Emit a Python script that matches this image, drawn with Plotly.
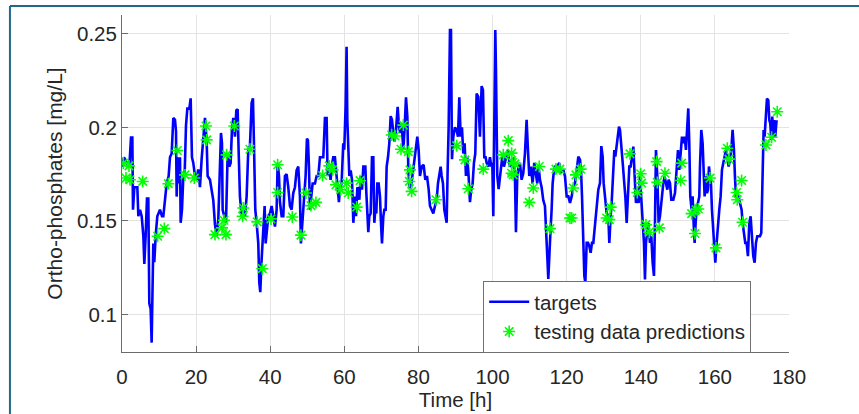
import plotly.graph_objects as go

# ---- targets (blue line) ----
target_time = [
    0, 0.54, 1.26, 1.98, 2.43, 2.79, 2.97, 3.33, 4.14, 4.41, 4.86, 5.31, 5.76, 6.03, 6.38, 6.74, 7.10, 7.37, 7.73, 8.00,
    8.45, 8.72, 9.08, 9.53, 10.25, 10.79, 11.15, 11.60, 12.05, 12.59, 12.95, 13.40, 13.85, 14.30, 14.57, 14.75, 15.02,
    15.29, 15.65, 15.83, 16.19, 16.55, 16.91, 17.27, 17.63, 18.17, 18.53, 18.88, 19.24, 19.69, 20.14, 20.59, 21.04,
    21.49, 21.94, 22.39, 22.84, 23.11, 23.74, 24.64, 25.09, 25.54, 25.99, 26.44, 26.71, 26.98, 27.16, 27.61, 28.06,
    28.51, 28.96, 29.32, 29.68, 30.04, 30.49, 30.85, 31.21, 31.47, 31.83, 32.28, 32.73, 33.18, 33.63, 34.08, 34.53,
    34.98, 35.34, 35.61, 35.97, 36.33, 36.78, 37.05, 37.32, 37.68, 38.13, 38.49, 38.76, 39.03, 39.48, 39.93, 40.38,
    40.83, 41.28, 41.73, 42.00, 42.36, 42.63, 43.08, 43.53, 43.97, 44.42, 44.87, 45.32, 45.77, 46.22, 46.67, 47.12,
    47.57, 47.84, 48.02, 48.29, 48.65, 48.92, 49.28, 49.55, 49.91, 50.18, 50.45, 50.72, 51.08, 51.44, 52.07, 52.52,
    52.97, 53.42, 54.32, 54.77, 55.22, 55.49, 55.94, 56.29, 56.74, 57.01, 57.46, 57.91, 58.27, 58.54, 58.81, 59.26,
    59.71, 59.98, 60.34, 60.61,
    60.81, 61.08, 61.35, 61.71, 62.07, 62.43, 62.88, 63.15, 63.51, 63.78, 64.05, 64.41, 64.77, 65.13, 65.67, 65.94,
    66.21, 66.47, 66.74, 67.10, 67.46, 67.82, 68.09, 68.36, 68.63, 68.90, 69.26, 69.62, 69.89, 70.16, 70.52, 70.79,
    71.15, 71.42, 71.78, 72.14, 72.50, 72.86, 73.22, 73.58, 73.94, 74.39, 74.75, 75.11, 75.47, 75.92, 76.28, 76.64,
    77.00, 77.27, 77.63, 77.99, 78.44, 78.80, 79.24, 79.69, 80.05, 80.41, 80.86, 81.40, 81.85, 82.30, 82.75, 83.11,
    83.56, 84.01, 84.46, 84.91, 85.27, 85.63, 85.99, 86.26, 86.62, 86.98, 87.34, 87.61, 87.88, 88.15, 88.51, 88.78,
    89.05, 89.41, 89.86, 90.31, 90.67, 91.03, 91.39, 91.74, 92.10, 92.46, 92.82, 93.18, 93.54, 93.90, 94.26, 94.62,
    94.98, 95.34, 95.70, 96.15, 96.60, 97.05, 97.41, 97.77, 98.13, 98.40, 98.85, 99.30, 99.66, 99.93, 100.20, 100.47,
    100.74, 100.92, 101.28, 101.64, 102.00, 102.36, 102.72, 103.08, 103.62, 104.15, 104.69, 105.14, 105.59, 106.04,
    106.31, 106.67, 107.03, 107.39, 107.84, 108.29, 108.74, 109.19, 109.55, 109.91, 110.36, 110.81, 111.26, 111.71,
    112.07, 112.43, 112.79, 113.24, 113.69, 114.14, 114.41, 114.77, 115.04, 115.31, 115.67, 115.94, 116.21, 116.57,
    116.92, 117.46, 118.00,
    118.20, 119.10, 119.55, 120.00, 120.45, 120.90, 121.35, 121.80, 122.25, 122.70, 123.15, 123.60, 123.87, 124.14,
    124.50, 124.77, 125.04, 125.40, 125.76, 126.12, 126.47, 126.83, 127.19, 127.64, 128.09, 128.54, 128.99, 129.35,
    129.71, 129.98, 130.34, 130.79, 131.24, 131.51, 131.87, 132.14, 132.59, 132.86, 133.13, 133.49, 133.85, 134.12,
    134.39, 134.66, 134.93, 135.20, 135.47, 135.83, 136.19, 136.55, 136.91, 137.27, 137.63, 137.99, 138.35, 138.71,
    139.06, 139.42, 139.78, 140.14, 140.50, 140.86, 141.13, 141.40, 141.76, 142.03, 142.48, 142.84, 143.20, 143.56,
    143.83, 144.10, 144.46, 144.82, 145.18, 145.63, 146.08, 146.44, 146.80, 147.16, 147.52, 147.88, 148.24, 148.78,
    149.23, 149.68, 150.04, 150.40, 150.76, 151.12, 151.47, 151.83, 152.19, 152.55, 152.82, 153.09, 153.36, 153.72,
    153.99, 154.26, 154.53, 154.80, 155.07, 155.43, 155.79, 155.97, 156.33, 156.69, 156.96, 157.23, 157.59, 157.86,
    158.13, 158.40, 158.67, 158.94, 159.21, 159.48, 159.75, 160.11, 160.47, 160.83, 161.19, 161.55, 161.91, 162.27,
    162.63, 162.99, 163.35, 163.71, 164.06, 164.42, 164.78, 165.14, 165.41, 165.68, 166.04, 166.40, 166.76, 167.21,
    167.48, 167.84, 168.20, 168.56, 168.92, 169.28, 169.64, 170.00, 170.36, 170.72, 171.08, 171.44, 171.80, 172.16,
    172.52, 172.88, 173.15, 173.42, 173.78, 174.05, 174.41, 174.68, 174.95, 175.22, 175.49, 175.76, 176.03, 176.29,
    176.65,
]
target_value = [
    0.179, 0.184, 0.181, 0.179, 0.1945, 0.1945, 0.156, 0.168, 0.168, 0.1525, 0.156, 0.1525, 0.142, 0.127, 0.142, 0.162,
    0.162, 0.106, 0.103, 0.085,
    0.138, 0.128, 0.142, 0.1525, 0.156, 0.1525, 0.1525, 0.1613, 0.170, 0.174, 0.184, 0.186, 0.205, 0.204, 0.198, 0.163,
    0.184, 0.170, 0.184, 0.149, 0.156, 0.174, 0.175, 0.201, 0.210, 0.210, 0.2155, 0.184, 0.181, 0.174, 0.172, 0.1775,
    0.168, 0.183, 0.193, 0.205, 0.193, 0.174, 0.172, 0.161, 0.148, 0.142, 0.151, 0.184, 0.197, 0.1915, 0.156, 0.1525,
    0.149, 0.186, 0.179, 0.181, 0.199, 0.205, 0.195, 0.209, 0.2096, 0.188, 0.163, 0.1525, 0.156, 0.1525, 0.163, 0.188,
    0.190, 0.213, 0.2155, 0.1915, 0.156, 0.149, 0.138, 0.117, 0.112, 0.1295, 0.149, 0.158, 0.138, 0.145, 0.1525, 0.154,
    0.158, 0.1525, 0.147, 0.156, 0.181, 0.174, 0.160, 0.1525, 0.1525, 0.174, 0.175, 0.168, 0.158, 0.156, 0.1649, 0.168,
    0.177, 0.179, 0.168, 0.163, 0.138, 0.149, 0.158, 0.163, 0.174, 0.194, 0.193, 0.179, 0.156, 0.163, 0.170, 0.170,
    0.174, 0.174, 0.184, 0.184, 0.205, 0.205, 0.174, 0.179, 0.172, 0.181, 0.184, 0.184, 0.174, 0.167, 0.160, 0.167,
    0.170, 0.1915, 0.188, 0.211, 0.243,
    0.204, 0.183, 0.174, 0.177, 0.172, 0.149, 0.163, 0.1525, 0.168, 0.1667, 0.1613, 0.174, 0.1667, 0.179, 0.179, 0.165,
    0.154, 0.144, 0.1525, 0.154, 0.184, 0.184, 0.149, 0.156, 0.154, 0.170, 0.170, 0.163, 0.149, 0.138, 0.1525, 0.156,
    0.156, 0.179, 0.184, 0.1915, 0.206, 0.204, 0.197, 0.1924, 0.1986, 0.211, 0.200, 0.197, 0.202, 0.188, 0.200, 0.216,
    0.2057, 0.177, 0.168, 0.168, 0.175, 0.181, 0.186, 0.195, 0.188, 0.174, 0.179, 0.180, 0.172, 0.174, 0.167, 0.158,
    0.156, 0.154, 0.158, 0.161, 0.170, 0.174, 0.179, 0.174, 0.170, 0.156, 0.1525, 0.149, 0.177, 0.200, 0.252, 0.252,
    0.183, 0.195, 0.200, 0.1986, 0.195, 0.216, 0.195, 0.200, 0.186, 0.1915, 0.174, 0.184, 0.174, 0.160, 0.167, 0.170,
    0.181, 0.186, 0.218, 0.2163, 0.195, 0.222, 0.220, 0.184, 0.184, 0.181, 0.179, 0.184, 0.179, 0.181, 0.1525, 0.209,
    0.252, 0.2305, 0.174, 0.167, 0.1738, 0.181, 0.186, 0.179, 0.184, 0.188, 0.179, 0.181, 0.184, 0.174,
    0.144, 0.174, 0.179, 0.181, 0.172, 0.1755, 0.186, 0.204, 0.188, 0.174, 0.179, 0.170, 0.181, 0.174,
    0.170, 0.179, 0.172, 0.168, 0.161, 0.158, 0.142, 0.131, 0.119, 0.128, 0.146, 0.156, 0.170, 0.177,
    0.179, 0.179, 0.181,
    0.1755, 0.1773, 0.1738, 0.1631, 0.1631, 0.1596, 0.1631, 0.1684, 0.1702, 0.1773, 0.1844, 0.1826, 0.1773, 0.1631,
    0.1383, 0.1206, 0.117, 0.1383, 0.1383, 0.1365, 0.133, 0.1383, 0.1383, 0.1489, 0.1596, 0.1667, 0.1702, 0.190,
    0.1844, 0.1702, 0.1631, 0.1543, 0.1525, 0.1383, 0.1525, 0.1596, 0.1773, 0.1879, 0.1844, 0.1897, 0.195, 0.2004,
    0.1986, 0.1933, 0.1862, 0.1791, 0.172, 0.1631, 0.1489, 0.1631, 0.1791, 0.1791, 0.1844, 0.1897, 0.1738, 0.1596,
    0.1631, 0.1596, 0.1738, 0.1631, 0.1489, 0.1383, 0.1188, 0.1383, 0.1454, 0.1489, 0.1383, 0.1418, 0.1277, 0.1206,
    0.1489, 0.1879, 0.1738, 0.1489, 0.1525, 0.1631, 0.1702, 0.1738, 0.1702, 0.1667, 0.172, 0.1702, 0.1613, 0.1613,
    0.1649, 0.1791, 0.1879, 0.1773, 0.1879, 0.195, 0.1915, 0.195, 0.1879, 0.1986, 0.2101, 0.1915, 0.1631, 0.156,
    0.1631, 0.1489, 0.1383, 0.1489, 0.156, 0.1596, 0.1631, 0.1791, 0.1986, 0.1915, 0.1702, 0.1631, 0.1738, 0.1649,
    0.1667, 0.1791, 0.1738, 0.1702, 0.156, 0.1489, 0.1418, 0.1277, 0.1383, 0.1489, 0.156, 0.1631, 0.1773, 0.1809,
    0.1844, 0.1879, 0.1844, 0.1791, 0.1826, 0.1879, 0.1986, 0.1879, 0.1738, 0.1631, 0.1631, 0.1631, 0.1596, 0.156,
    0.1489, 0.1418, 0.1383, 0.1383, 0.1312, 0.1489, 0.1525, 0.1418, 0.1312, 0.1277, 0.1383, 0.1418, 0.1418, 0.1418,
    0.1436, 0.1879, 0.1986, 0.195, 0.2092, 0.2154, 0.2145, 0.2039, 0.2021, 0.1933, 0.2057, 0.195, 0.2039, 0.195,
    0.2039,
]

# ---- testing data predictions (green asterisks) ----
pred_time = [
    0.36, 1.89, 1.08, 2.16, 5.58, 9.62, 11.42, 12.50, 14.93, 17.00, 19.51, 22.66, 22.84, 25.09, 26.98, 27.52, 28.06,
    28.24, 30.31, 32.73, 32.55, 34.53, 36.51, 37.86, 40.20, 42.00, 42.00, 45.95, 48.29, 49.64, 50.99, 52.34, 54.14,
    55.94, 56.83, 57.73, 58.99, 60.61, 61.06,
    63.33, 64.23, 72.77, 73.67, 75.92, 75.29, 77.27, 77.72, 77.54, 78.17, 84.73, 90.31, 92.55, 93.45, 97.50, 102.90,
    104.24, 105.14, 105.41, 106.04, 105.14, 105.59, 109.91, 110.99, 112.61, 115.49, 117.10, 118.18, 120.88, 121.78,
    122.50,
    121.35, 123.78, 130.79, 131.51, 131.87, 137.09, 139.06, 139.96, 140.23, 141.40, 142.30, 144.28, 144.46, 145.00,
    146.53, 151.03, 150.76, 153.72, 154.89, 154.62, 155.52, 158.67, 160.29, 163.35, 163.80, 165.86, 166.04, 167.21,
    167.48, 173.78, 175.31, 176.83,
]
pred_value = [
    0.1809, 0.1794, 0.1729, 0.1720, 0.1711, 0.1418, 0.1459, 0.1699, 0.1876, 0.1746, 0.1729, 0.2007, 0.1933, 0.1427,
    0.1463, 0.1504, 0.1427, 0.1853, 0.2007, 0.1569, 0.1525, 0.1883, 0.1495, 0.1245, 0.1511, 0.1800, 0.1652, 0.1521,
    0.1424, 0.1649, 0.1582, 0.1599, 0.1743, 0.1794, 0.1773, 0.1693, 0.1667, 0.1702, 0.1649,
    0.1574, 0.1715, 0.1959, 0.1954, 0.2012, 0.1883, 0.1870, 0.1773, 0.1711, 0.1658, 0.1613, 0.1902, 0.1826, 0.1672,
    0.1777, 0.1853, 0.1929, 0.1862, 0.1812, 0.1805, 0.1755, 0.1746, 0.1599, 0.1676, 0.1791, 0.1459, 0.1777, 0.1777,
    0.1516, 0.1676, 0.1746,
    0.1516, 0.1777, 0.1516, 0.1507, 0.1574, 0.1858, 0.1652, 0.1752, 0.1702, 0.1480, 0.1440, 0.1817, 0.1706, 0.1463,
    0.1755, 0.1809, 0.1716, 0.1539, 0.1560, 0.1433, 0.1564, 0.1729, 0.1356, 0.1888, 0.1830, 0.1652, 0.1613, 0.1716,
    0.1493, 0.1906, 0.1947, 0.2083,
]

x_ticks = [0, 20, 40, 60, 80, 100, 120, 140, 160, 180]
y_ticks = [0.1, 0.15, 0.2, 0.25]
y_tick_text = ["0.1", "0.15", "0.2", "0.25"]

FONT = "Liberation Sans, Arial, Helvetica, sans-serif"
TXT = "#262626"

fig = go.Figure()
fig.add_trace(go.Scatter(
    x=target_time, y=target_value, mode="lines", name="targets",
    line=dict(color="#0000ff", width=2.6),
))
fig.add_trace(go.Scatter(
    x=pred_time, y=pred_value, mode="markers", name="testing data predictions",
    marker=dict(symbol="asterisk-open", size=10, color="#00ff00",
                line=dict(color="#00ff00", width=1.6)),
))

axis_common = dict(
    showline=True, linecolor="#6b6b6b", linewidth=1,
    ticks="inside", ticklen=6, tickcolor="#6b6b6b", tickwidth=1,
    showgrid=True, gridcolor="#e3e3e3", gridwidth=1,
    zeroline=False, mirror=False, automargin=False,
    tickfont=dict(family=FONT, size=20.5, color=TXT),
)

fig.update_layout(
    width=859, height=414,
    margin=dict(l=122, r=70, t=15, b=62),
    paper_bgcolor="white", plot_bgcolor="white",
    font=dict(family=FONT, color=TXT),
    showlegend=True,
    legend=dict(
        x=0.5415, y=0.2107, xanchor="left", yanchor="top",
        bgcolor="white", bordercolor="#707070", borderwidth=1,
        font=dict(family=FONT, size=20.5, color=TXT),
        tracegroupgap=0, itemwidth=40,
    ),
    xaxis=dict(
        range=[0, 180], tickvals=x_ticks, ticklabelstandoff=6,
        title=dict(text="Time [h]", font=dict(family=FONT, size=20.5, color=TXT), standoff=6),
        **axis_common,
    ),
    yaxis=dict(
        range=[0.08, 0.26], tickvals=y_ticks, ticktext=y_tick_text,
        title=dict(text="Ortho-phosphates [mg/L]", font=dict(family=FONT, size=21, color=TXT), standoff=8),
        **axis_common,
    ),
)

# outer teal frame (page border visible in the reference crop)
fig.add_shape(type="line", xref="paper", yref="paper",
              x0=-0.168, x1=1.11, y0=1.0264, y1=1.0264,
              line=dict(color="#1f6a8a", width=2))
fig.add_shape(type="line", xref="paper", yref="paper",
              x0=-0.168, x1=-0.168, y0=1.0264, y1=-0.19,
              line=dict(color="#1f6a8a", width=2))

fig.write_html(
    "out.html",
    config={"displayModeBar": False},
    post_script="document.body.style.margin='0';document.body.style.overflow='hidden';",
)
